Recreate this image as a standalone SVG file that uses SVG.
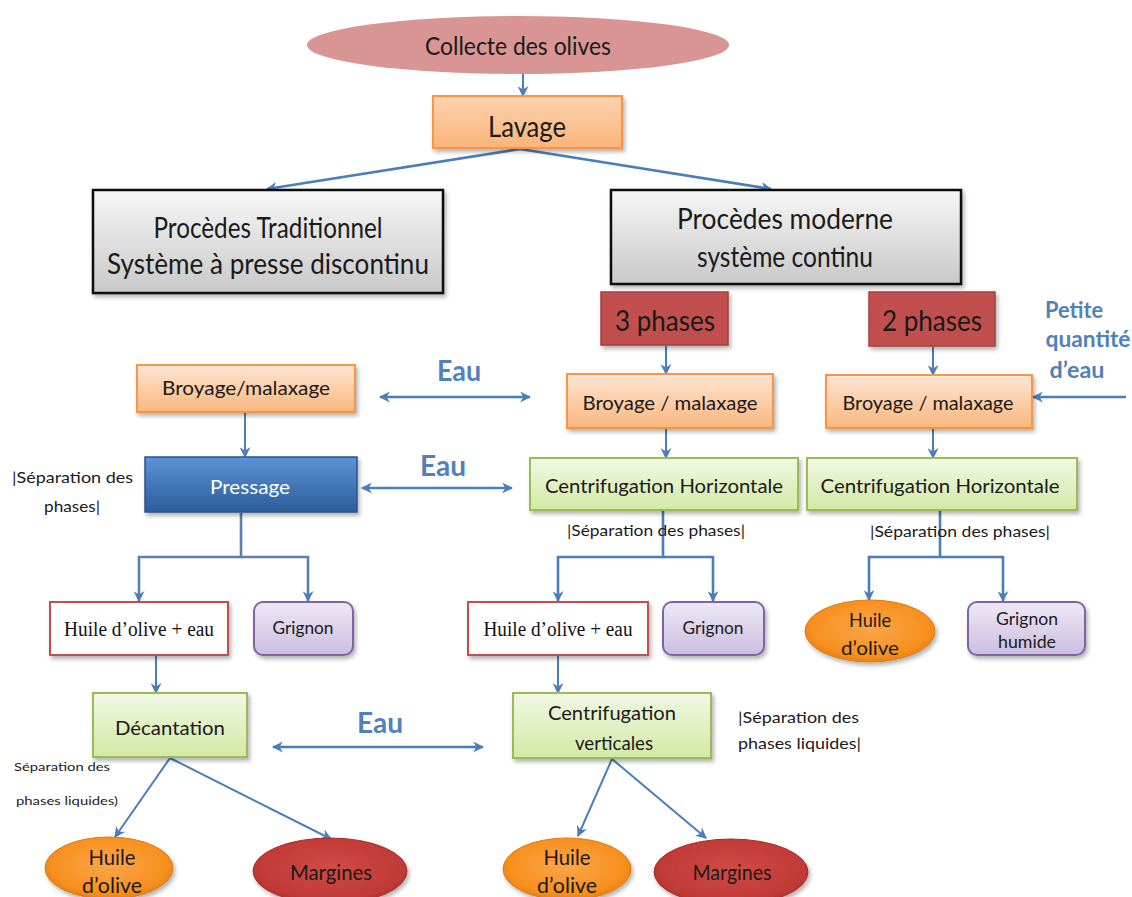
<svg xmlns="http://www.w3.org/2000/svg" width="1132" height="897" viewBox="0 0 1132 897">
<defs>
<linearGradient id="gGray" x1="0" y1="0" x2="0" y2="1"><stop offset="0" stop-color="#f7f7f7"/><stop offset="1" stop-color="#c8c8c8"/></linearGradient>
<linearGradient id="gOrange" x1="0" y1="0" x2="0" y2="1"><stop offset="0" stop-color="#fde6d4"/><stop offset="1" stop-color="#fbb67e"/></linearGradient>
<linearGradient id="gLav" x1="0" y1="0" x2="0" y2="1"><stop offset="0" stop-color="#fcd3b0"/><stop offset="1" stop-color="#fab47a"/></linearGradient>
<linearGradient id="gGreen" x1="0" y1="0" x2="0" y2="1"><stop offset="0" stop-color="#f1f8e4"/><stop offset="1" stop-color="#d2e9a5"/></linearGradient>
<linearGradient id="gPurple" x1="0" y1="0" x2="0" y2="1"><stop offset="0" stop-color="#eee9f5"/><stop offset="1" stop-color="#cbbde0"/></linearGradient>
<linearGradient id="gBlue" x1="0" y1="0" x2="0" y2="1"><stop offset="0" stop-color="#5d93d6"/><stop offset="1" stop-color="#2c5c9c"/></linearGradient>
<radialGradient id="gHuile" cx="0.5" cy="0.45" r="0.6"><stop offset="0" stop-color="#fba64a"/><stop offset="0.75" stop-color="#f7901e"/><stop offset="1" stop-color="#e07a12"/></radialGradient>
<radialGradient id="gMarg" cx="0.5" cy="0.45" r="0.6"><stop offset="0" stop-color="#d24a44"/><stop offset="0.8" stop-color="#c03a36"/><stop offset="1" stop-color="#a82a28"/></radialGradient>
<filter id="sh" x="-10%" y="-10%" width="130%" height="140%"><feDropShadow dx="2" dy="3" stdDeviation="2" flood-color="#000" flood-opacity="0.3"/></filter>
<marker id="ar" viewBox="0 0 10 10" refX="9" refY="5" markerWidth="11" markerHeight="11" markerUnits="userSpaceOnUse" orient="auto-start-reverse"><path d="M0,0 L10,5 L0,10 L3,5 z" fill="#4a7ebb"/></marker>
<style>
.t{font-family:Lato,"Liberation Sans",sans-serif;fill:#1a1a1a;text-anchor:middle}
.tr{font-family:"Liberation Serif",serif;fill:#111;text-anchor:middle}
.eau{font-family:Lato,"Liberation Sans",sans-serif;font-weight:bold;fill:#4f81bd;text-anchor:middle}
.sep{font-family:Lato,"Liberation Sans",sans-serif;fill:#1a1a1a}
.gray{fill:url(#gGray);stroke:#111;stroke-width:2.5}
.org{fill:url(#gOrange);stroke:#f79646;stroke-width:2}
.grn{fill:url(#gGreen);stroke:#9bbb59;stroke-width:2}
.pur{fill:url(#gPurple);stroke:#8064a2;stroke-width:2}
.red{fill:#c0504d;stroke:#a0403d;stroke-width:1.5}
.wht{fill:#fff;stroke:#c0504d;stroke-width:2}
.c{fill:none;stroke:#4a7ebb;stroke-width:2}
.cw{fill:none;stroke:#4a7ebb;stroke-width:2.6}
</style>
</defs>
<rect width="1132" height="897" fill="#fff"/>

<g id="connectors">
<line class="c" x1="523" y1="74" x2="523" y2="96" marker-end="url(#ar)"/>
<line class="cw" x1="520" y1="149" x2="267" y2="189" marker-end="url(#ar)"/>
<line class="cw" x1="520" y1="149" x2="771" y2="189" marker-end="url(#ar)"/>
<line class="c" x1="666" y1="346" x2="666" y2="374" marker-end="url(#ar)"/>
<line class="c" x1="933" y1="347" x2="933" y2="375" marker-end="url(#ar)"/>
<line class="cw" x1="1126" y1="397" x2="1033" y2="397" marker-end="url(#ar)"/>
<line class="c" x1="666" y1="429" x2="666" y2="458" marker-end="url(#ar)"/>
<line class="c" x1="933" y1="429" x2="933" y2="458" marker-end="url(#ar)"/>
<line class="cw" x1="380" y1="397" x2="530" y2="397" marker-start="url(#ar)" marker-end="url(#ar)"/>
<line class="c" x1="245" y1="413" x2="245" y2="457" marker-end="url(#ar)"/>
<line class="cw" x1="362" y1="488" x2="512" y2="488" marker-start="url(#ar)" marker-end="url(#ar)"/>
<path d="M241,513 V557 H139 V601" fill="none" stroke="#5a7fb0" stroke-width="2.6" marker-end="url(#ar)"/>
<path d="M241,557 H308 V601" fill="none" stroke="#5a7fb0" stroke-width="2.6" marker-end="url(#ar)"/>
<path class="cw" d="M663,511 V557 H558 V601" marker-end="url(#ar)"/>
<path class="cw" d="M663,557 H713 V601" marker-end="url(#ar)"/>
<path class="cw" d="M940,511 V557 H869 V600" marker-end="url(#ar)"/>
<path class="cw" d="M940,557 H1003 V601" marker-end="url(#ar)"/>
<line class="c" x1="156" y1="656" x2="156" y2="693" marker-end="url(#ar)"/>
<line class="c" x1="558" y1="656" x2="558" y2="693" marker-end="url(#ar)"/>
<line class="cw" x1="273" y1="747" x2="483" y2="747" marker-start="url(#ar)" marker-end="url(#ar)"/>
<line class="c" x1="170" y1="758" x2="115" y2="837" marker-end="url(#ar)"/>
<line class="c" x1="170" y1="758" x2="331" y2="839" marker-end="url(#ar)"/>
<line class="c" x1="612" y1="759" x2="578" y2="836" marker-end="url(#ar)"/>
<line class="c" x1="612" y1="759" x2="706" y2="838" marker-end="url(#ar)"/>
</g>

<g id="collecte"><ellipse cx="518" cy="45" rx="211" ry="29" fill="#d99594"/><text class="t" x="518" y="55" font-size="25" textLength="186" lengthAdjust="spacingAndGlyphs">Collecte des olives</text></g>
<g id="lavage"><rect x="433" y="96" width="189" height="52" fill="url(#gLav)" stroke="#f79646" stroke-width="2" filter="url(#sh)"/><text class="t" x="527" y="137" font-size="28" textLength="78" lengthAdjust="spacingAndGlyphs">Lavage</text></g>
<g id="traditionnel"><rect class="gray" x="93" y="190" width="350" height="103" filter="url(#sh)"/><text class="t" x="268" y="238" font-size="29" textLength="229" lengthAdjust="spacingAndGlyphs">Procèdes Traditionnel</text><text class="t" x="268" y="274" font-size="29" textLength="322" lengthAdjust="spacingAndGlyphs">Système à presse discontinu</text></g>
<g id="moderne"><rect class="gray" x="611" y="190" width="350" height="94" filter="url(#sh)"/><text class="t" x="785" y="229" font-size="28" textLength="216" lengthAdjust="spacingAndGlyphs">Procèdes moderne</text><text class="t" x="785" y="267" font-size="28" textLength="176" lengthAdjust="spacingAndGlyphs">système continu</text></g>
<g id="phases3"><rect class="red" x="601" y="292" width="127" height="53" filter="url(#sh)"/><text class="t" x="665" y="331" font-size="28" textLength="100" lengthAdjust="spacingAndGlyphs">3 phases</text></g>
<g id="phases2"><rect class="red" x="869" y="292" width="126" height="54" filter="url(#sh)"/><text class="t" x="932" y="331" font-size="28" textLength="100" lengthAdjust="spacingAndGlyphs">2 phases</text></g>
<g id="petite"><text class="eau" x="1074" y="318" font-size="23" textLength="58" lengthAdjust="spacingAndGlyphs">Petite</text><text class="eau" x="1088" y="347" font-size="23" textLength="85" lengthAdjust="spacingAndGlyphs">quantité</text><text class="eau" x="1077" y="378" font-size="23" textLength="55" lengthAdjust="spacingAndGlyphs">d’eau</text></g>
<g id="broyage-l"><rect class="org" x="137" y="365" width="218" height="47" filter="url(#sh)"/><text class="t" x="246" y="395" font-size="20" textLength="168" lengthAdjust="spacingAndGlyphs">Broyage/malaxage</text></g>
<g id="broyage-m"><rect class="org" x="567" y="374" width="206" height="54" filter="url(#sh)"/><text class="t" x="670" y="410" font-size="20" textLength="175" lengthAdjust="spacingAndGlyphs">Broyage / malaxage</text></g>
<g id="broyage-r"><rect class="org" x="826" y="375" width="206" height="53" filter="url(#sh)"/><text class="t" x="928" y="410" font-size="20" textLength="171" lengthAdjust="spacingAndGlyphs">Broyage / malaxage</text></g>
<g id="eau1"><text class="eau" x="459" y="381" font-size="29" textLength="44" lengthAdjust="spacingAndGlyphs">Eau</text></g>
<g id="eau2"><text class="eau" x="443" y="476" font-size="29" textLength="46" lengthAdjust="spacingAndGlyphs">Eau</text></g>
<g id="eau3"><text class="eau" x="380" y="733" font-size="29" textLength="46" lengthAdjust="spacingAndGlyphs">Eau</text></g>
<g id="pressage"><rect x="145" y="457" width="212" height="55" fill="url(#gBlue)" stroke="#2b5588" stroke-width="1.5" filter="url(#sh)"/><text class="t" x="250" y="494" font-size="20" style="fill:#fff" textLength="80" lengthAdjust="spacingAndGlyphs">Pressage</text></g>
<g id="sep-pressage"><text class="sep" x="12" y="483" font-size="16" textLength="121" lengthAdjust="spacingAndGlyphs">|Séparation des</text><text class="sep" x="44" y="512" font-size="16" textLength="56" lengthAdjust="spacingAndGlyphs">phases|</text></g>
<g id="centri-h-m"><rect class="grn" x="530" y="458" width="268" height="52" filter="url(#sh)"/><text class="t" x="664" y="493" font-size="20" textLength="238" lengthAdjust="spacingAndGlyphs">Centrifugation Horizontale</text></g>
<g id="centri-h-r"><rect class="grn" x="807" y="458" width="270" height="52" filter="url(#sh)"/><text class="t" x="940" y="493" font-size="20" textLength="239" lengthAdjust="spacingAndGlyphs">Centrifugation Horizontale</text></g>
<g id="sep-m"><text class="sep" x="567" y="536" font-size="16" textLength="178" lengthAdjust="spacingAndGlyphs">|Séparation des phases|</text></g>
<g id="sep-r"><text class="sep" x="870" y="537" font-size="16" textLength="180" lengthAdjust="spacingAndGlyphs">|Séparation des phases|</text></g>
<g id="huile-eau-l"><rect class="wht" x="50" y="602" width="178" height="53" filter="url(#sh)"/><text class="tr" x="139" y="636" font-size="20" textLength="150" lengthAdjust="spacingAndGlyphs">Huile d’olive + eau</text></g>
<g id="grignon-l"><rect class="pur" x="254" y="602" width="99" height="53" rx="9" filter="url(#sh)"/><text class="t" x="303" y="634" font-size="18" textLength="61" lengthAdjust="spacingAndGlyphs">Grignon</text></g>
<g id="huile-eau-m"><rect class="wht" x="468" y="602" width="180" height="53" filter="url(#sh)"/><text class="tr" x="558" y="636" font-size="20" textLength="149" lengthAdjust="spacingAndGlyphs">Huile d’olive + eau</text></g>
<g id="grignon-m"><rect class="pur" x="663" y="602" width="101" height="53" rx="9" filter="url(#sh)"/><text class="t" x="713" y="634" font-size="18" textLength="61" lengthAdjust="spacingAndGlyphs">Grignon</text></g>
<g id="huile-r"><ellipse cx="870" cy="631" rx="65" ry="31" fill="url(#gHuile)" stroke="#e07a12" stroke-width="1" filter="url(#sh)"/><text class="t" x="870" y="627" font-size="20" textLength="42" lengthAdjust="spacingAndGlyphs">Huile</text><text class="t" x="870" y="655" font-size="20" textLength="58" lengthAdjust="spacingAndGlyphs">d’olive</text></g>
<g id="grignon-humide"><rect class="pur" x="968" y="602" width="117" height="53" rx="9" filter="url(#sh)"/><text class="t" x="1027" y="625" font-size="18" textLength="62" lengthAdjust="spacingAndGlyphs">Grignon</text><text class="t" x="1027" y="648" font-size="18" textLength="58" lengthAdjust="spacingAndGlyphs">humide</text></g>
<g id="decantation"><rect class="grn" x="93" y="693" width="154" height="64" filter="url(#sh)"/><text class="t" x="170" y="735" font-size="20" textLength="110" lengthAdjust="spacingAndGlyphs">Décantation</text></g>
<g id="centri-v"><rect class="grn" x="513" y="693" width="198" height="65" filter="url(#sh)"/><text class="t" x="612" y="720" font-size="20" textLength="128" lengthAdjust="spacingAndGlyphs">Centrifugation</text><text class="t" x="614" y="750" font-size="20" textLength="78" lengthAdjust="spacingAndGlyphs">verticales</text></g>
<g id="sep-cv"><text class="sep" x="738" y="723" font-size="16" textLength="121" lengthAdjust="spacingAndGlyphs">|Séparation des</text><text class="sep" x="738" y="749" font-size="16" textLength="123" lengthAdjust="spacingAndGlyphs">phases liquides|</text></g>
<g id="sep-dec"><text class="sep" x="14" y="771" font-size="12" textLength="96" lengthAdjust="spacingAndGlyphs">Séparation des</text><text class="sep" x="16" y="805" font-size="12" textLength="102" lengthAdjust="spacingAndGlyphs">phases liquides)</text></g>
<g id="huile-l"><ellipse cx="109" cy="868" rx="64" ry="31" fill="url(#gHuile)" stroke="#e07a12" stroke-width="1" filter="url(#sh)"/><text class="t" x="112" y="865" font-size="22" textLength="47" lengthAdjust="spacingAndGlyphs">Huile</text><text class="t" x="112" y="893" font-size="22" textLength="60" lengthAdjust="spacingAndGlyphs">d’olive</text></g>
<g id="margines-l"><ellipse cx="330" cy="871" rx="77" ry="33" fill="url(#gMarg)" stroke="#a82a28" stroke-width="1" filter="url(#sh)"/><text class="t" x="331" y="880" font-size="22" textLength="82" lengthAdjust="spacingAndGlyphs">Margines</text></g>
<g id="huile-m"><ellipse cx="567" cy="869" rx="64" ry="31" fill="url(#gHuile)" stroke="#e07a12" stroke-width="1" filter="url(#sh)"/><text class="t" x="567" y="865" font-size="22" textLength="47" lengthAdjust="spacingAndGlyphs">Huile</text><text class="t" x="567" y="893" font-size="22" textLength="60" lengthAdjust="spacingAndGlyphs">d’olive</text></g>
<g id="margines-m"><ellipse cx="731" cy="872" rx="77" ry="33" fill="url(#gMarg)" stroke="#a82a28" stroke-width="1" filter="url(#sh)"/><text class="t" x="732" y="880" font-size="22" textLength="79" lengthAdjust="spacingAndGlyphs">Margines</text></g>
</svg>
